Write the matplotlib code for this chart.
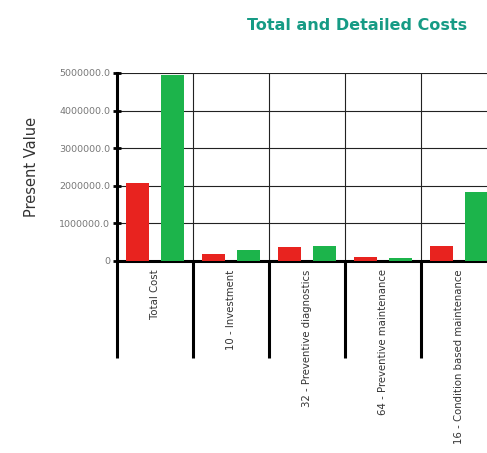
import numpy as np
import matplotlib.pyplot as plt

categories = ["Total Cost", "10 - Investment", "32 - Preventive diagnostics",
              "64 - Preventive maintenance", "16 - Condition based maintenance"]
red_values = [2070000, 190000, 370000, 100000, 400000]
green_values = [4950000, 290000, 400000, 80000, 1830000]
y_ticks = [0, 1000000, 2000000, 3000000, 4000000, 5000000]

fig = plt.figure(figsize=(4.87, 4.53), dpi=100)
# axes run past the right edge of the figure, as in the reference
ax = fig.add_axes([117 / 487, 192 / 453, 380 / 487, 188 / 453])

x = np.arange(len(categories))
ax.bar(x - 0.23, red_values, width=0.3, color='#e8231f', zorder=3)
ax.bar(x + 0.23, green_values, width=0.3, color='#1cb44b', zorder=3)

ax.set_xlim(-0.5, len(categories) - 0.5)
ax.set_ylim(0, 5000000)
ax.set_yticks(y_ticks)
ax.set_yticklabels(["0"] + [f"{v:.1f}" for v in y_ticks[1:]], fontsize=6.8, color='#777777')
ax.tick_params(axis='y', direction='inout', length=6, width=2, pad=2)
ax.yaxis.grid(True, color='#222222', linewidth=0.8, zorder=0)

ax.set_xticks(x)
ax.set_xticklabels(categories, rotation=90, va='top', fontsize=7.3, color='#333333')
ax.tick_params(axis='x', which='major', length=0, pad=6)
ax.set_xticks(np.arange(len(categories)) - 0.5, minor=True)
ax.tick_params(axis='x', which='minor', length=70, width=2.2, direction='out')
ax.xaxis.grid(True, which='minor', color='#222222', linewidth=0.8, zorder=0)

for side in ['top', 'right']:
    ax.spines[side].set_visible(False)
ax.spines['left'].set_linewidth(2.2)
ax.spines['bottom'].set_linewidth(2.2)

ax.set_ylabel("Present Value", fontsize=10.5, color='#333333', labelpad=14)
fig.text(357 / 487, 1 - 25 / 453, "Total and Detailed Costs", ha='center', va='center',
         fontsize=11.5, fontweight='bold', color='#169b85')

fig.savefig("out.png", dpi=100)
